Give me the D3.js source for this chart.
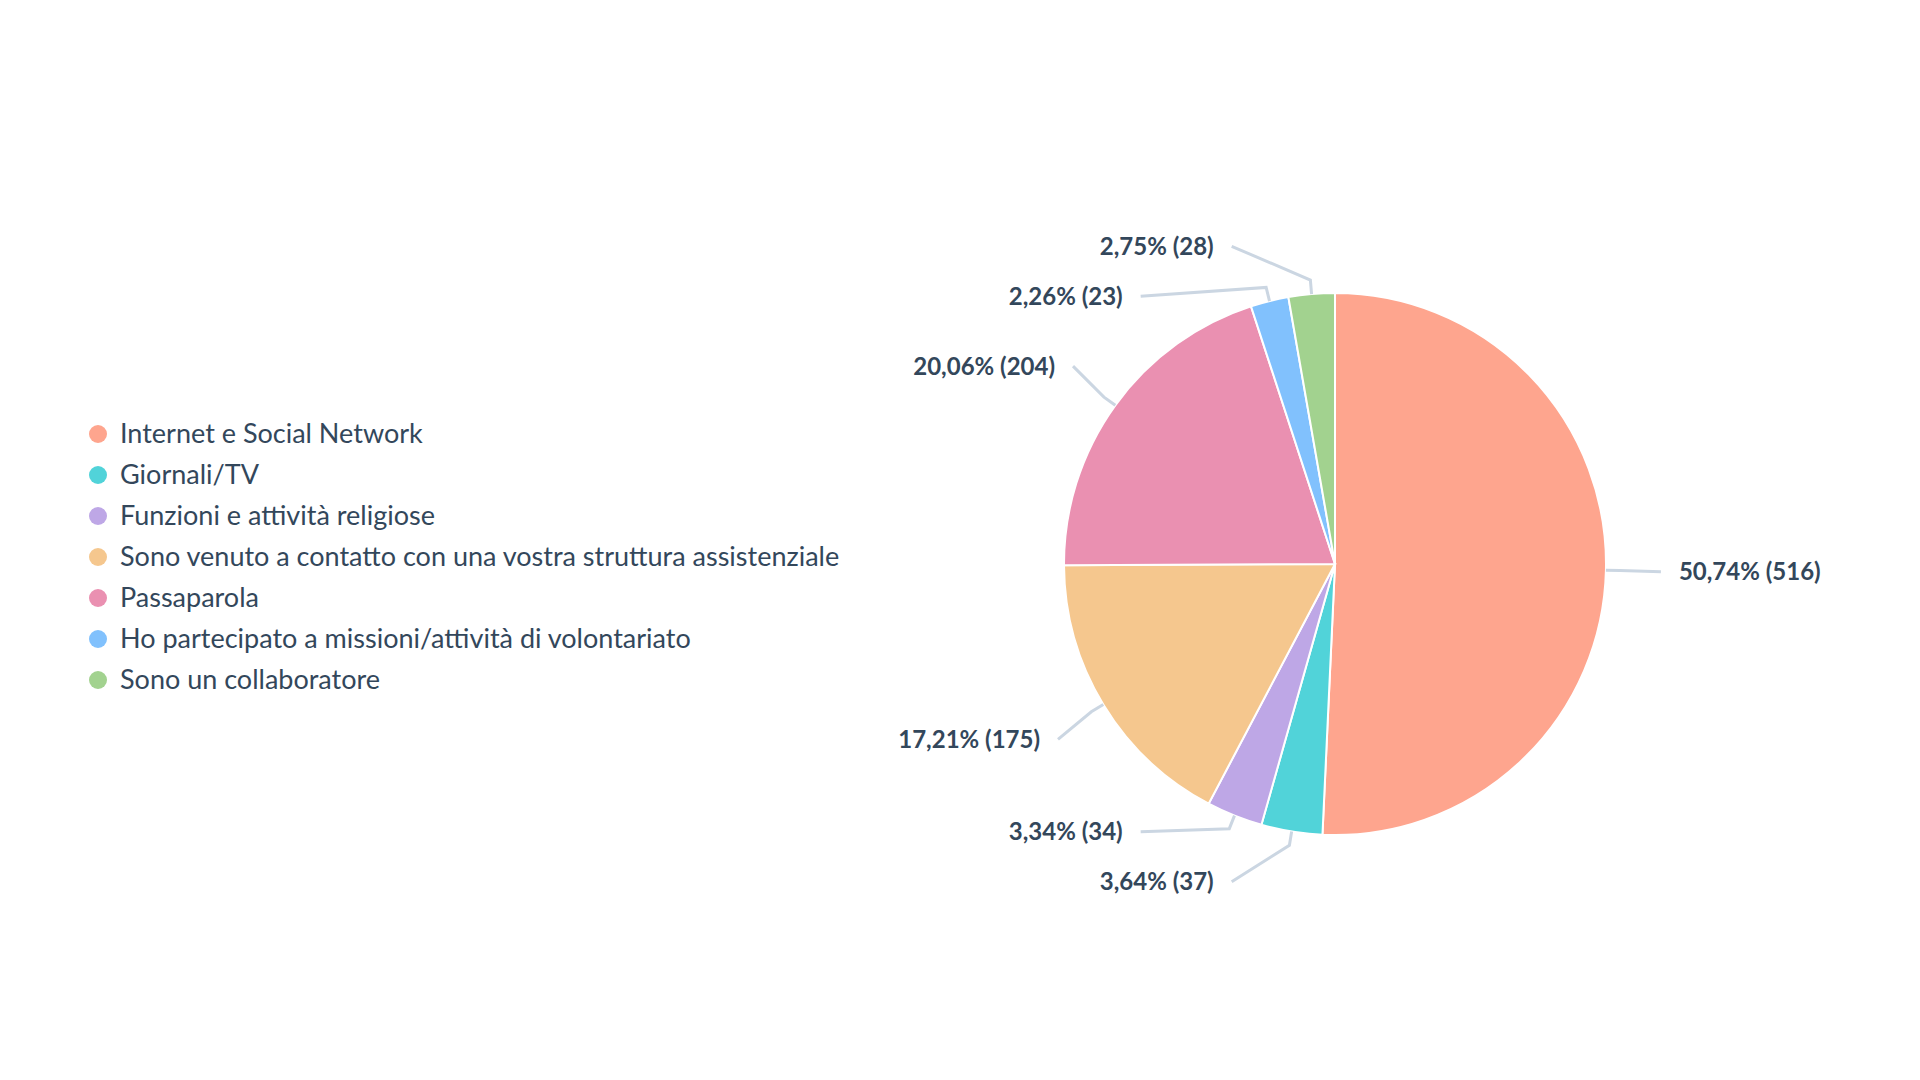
<!DOCTYPE html>
<html>
<head>
<meta charset="utf-8">
<script src="https://cdn.jsdelivr.net/npm/d3@7"></script>
<style>
  body { margin: 0; background: #fff; }
  svg { font-family: Lato, "Open Sans", sans-serif; }
</style>
</head>
<body>
<svg id="chart" width="1920" height="1080"></svg>
<script>
const categories = [
  "Internet e Social Network",
  "Giornali/TV",
  "Funzioni e attività religiose",
  "Sono venuto a contatto con una vostra struttura assistenziale",
  "Passaparola",
  "Ho partecipato a missioni/attività di volontariato",
  "Sono un collaboratore"
];
const counts = [516, 37, 34, 175, 204, 23, 28];
const percents = ["50,74%", "3,64%", "3,34%", "17,21%", "20,06%", "2,26%", "2,75%"];
const palette = ["#fea58e", "#51d3d9", "#bea7e6", "#f5c78e", "#ea90b1", "#81c1fd", "#a2d28f"];

const svg = d3.select("#chart");
const cx = 1335, cy = 564, r = 271;
const labelR = 338;
const textColor = "#33475b";

const data = categories.map((c, i) => ({ name: c, value: counts[i], pct: percents[i], color: palette[i] }));

const pie = d3.pie().value(d => d.value).sort(null);
const arcs = pie(data);
const arc = d3.arc().innerRadius(0).outerRadius(r);

const g = svg.append("g").attr("transform", "translate(" + cx + "," + cy + ")");

g.selectAll(".slice")
  .data(arcs)
  .enter().append("path")
  .attr("class", "slice")
  .attr("d", arc)
  .attr("fill", d => d.data.color)
  .attr("stroke", "#fff")
  .attr("stroke-width", 2);

// label placement: naive y from mid angle, then spread on each side
const labels = arcs.map(a => {
  const mid = (a.startAngle + a.endAngle) / 2;
  const side = Math.sin(mid) >= 0 ? 1 : -1;
  return { a, mid, side, y: -Math.cos(mid) * labelR };
});
[1, -1].forEach(side => {
  const list = labels.filter(l => l.side === side).sort((p, q) => p.y - q.y);
  const gap = 50;
  for (let i = 0; i < list.length; i++) {
    if (i === 0) list[i].y = Math.max(list[i].y, -labelR * 0.94);
    else if (list[i].y - list[i - 1].y < gap) list[i].y = list[i - 1].y + gap;
  }
  // push back up from bottom if needed
  for (let i = list.length - 1; i >= 0; i--) {
    if (i === list.length - 1) list[i].y = Math.min(list[i].y, labelR * 0.94);
    else if (list[i + 1].y - list[i].y < gap) list[i].y = list[i + 1].y - gap;
  }
});
labels.forEach(l => {
  l.x = l.side * Math.sqrt(Math.max(0, labelR * labelR - l.y * l.y));
});

labels.forEach(l => {
  const sx = Math.sin(l.mid) * r, sy = -Math.cos(l.mid) * r;
  const ex = Math.sin(l.mid) * (r + 14), ey = -Math.cos(l.mid) * (r + 14);
  const tx = l.x - l.side * 12;
  g.append("path")
    .attr("d", d3.line()([[sx, sy], [ex, ey], [tx, l.y]]))
    .attr("fill", "none")
    .attr("stroke", "#cbd6e2")
    .attr("stroke-width", 3);
  g.append("text")
    .attr("x", l.x + l.side * 6)
    .attr("y", l.y)
    .attr("dy", "0.35em")
    .attr("text-anchor", l.side > 0 ? "start" : "end")
    .attr("font-size", 24)
    .attr("font-weight", "bold")
    .attr("fill", textColor)
    .text(l.a.data.pct + " (" + l.a.data.value + ")");
});

// legend
const legendY = d3.scalePoint().domain(categories).range([434, 680]);
const legend = svg.append("g");
const items = legend.selectAll(".item").data(data).enter().append("g")
  .attr("transform", d => "translate(98," + legendY(d.name) + ")");
items.append("circle").attr("r", 9).attr("fill", d => d.color);
items.append("text")
  .attr("x", 22).attr("dy", "0.35em")
  .attr("font-size", 27)
  .attr("fill", textColor)
  .text(d => d.name);
</script>
</body>
</html>
